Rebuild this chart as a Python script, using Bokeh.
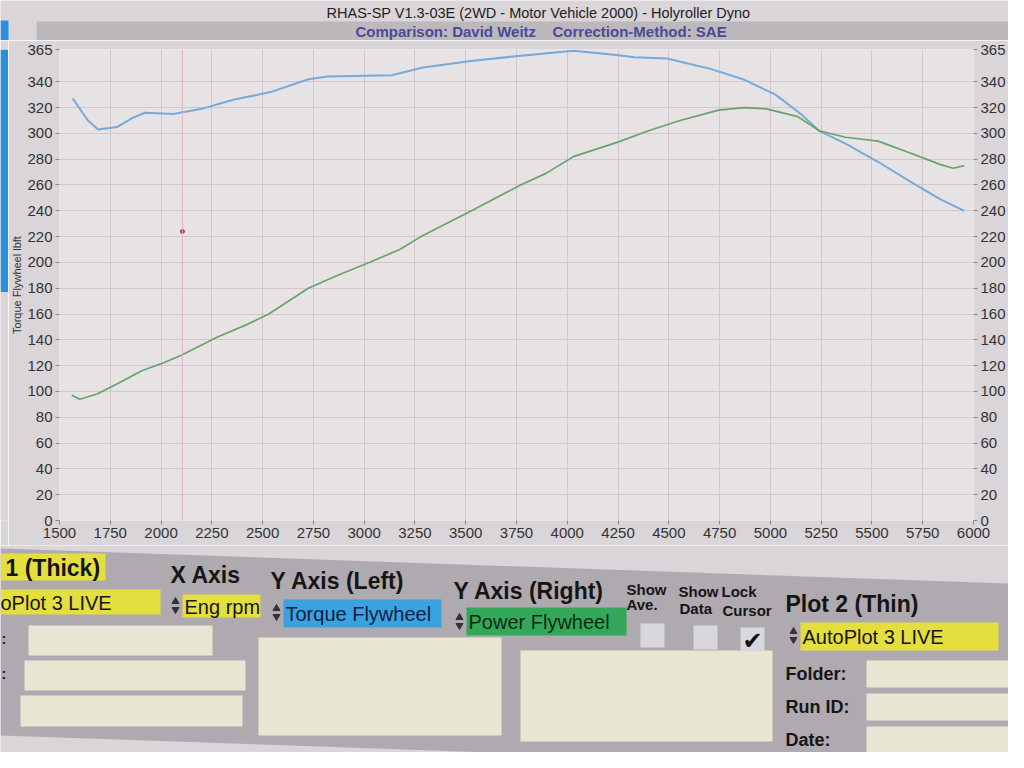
from bokeh.plotting import figure
from bokeh.models import Range1d, LinearAxis, FixedTicker, Span
from bokeh.layouts import column, row
from bokeh.embed import file_html
from bokeh.resources import INLINE
from bokeh.core.properties import value

# ---------------- data ----------------
rpm_ticks = [1500, 1750, 2000, 2250, 2500, 2750, 3000, 3250, 3500, 3750,
             4000, 4250, 4500, 4750, 5000, 5250, 5500, 5750, 6000]
y_ticks = [0, 20, 40, 60, 80, 100, 120, 140, 160, 180, 200, 220, 240, 260,
           280, 300, 320, 340, 365]

torque_rpm = [1565, 1640, 1690, 1785, 1860, 1920, 2060, 2200, 2355, 2540,
              2725, 2820, 3135, 3290, 3525, 3760, 4030, 4230, 4330, 4490,
              4705, 4865, 5025, 5150, 5240, 5370, 5530, 5685, 5835, 5955]
torque_lbft = [327, 310, 303, 305, 312, 316, 315, 319, 326, 332,
               342, 344, 345, 351, 356, 360, 364, 361, 359, 358,
               350, 342, 330, 315, 302, 292, 278, 263, 249, 240]

power_rpm = [1560, 1600, 1685, 1785, 1905, 2010, 2100, 2275, 2425, 2530,
             2725, 2870, 3025, 3175, 3280, 3540, 3770, 3895, 4030, 4245,
             4400, 4555, 4745, 4870, 4980, 5135, 5240, 5370, 5530, 5685,
             5835, 5900, 5955]
power_hp = [97, 94, 98, 106, 116, 122, 128, 142, 152, 160,
            180, 190, 200, 210, 220, 241, 260, 269, 282, 293,
            302, 310, 318, 320, 319, 313, 302, 297, 294, 285,
            276, 273, 275]

cursor_rpm = 2105
cursor_value = 224

title_1 = "RHAS-SP V1.3-03E  (2WD - Motor Vehicle 2000) - Holyroller Dyno"
title_2a = "Comparison: David Weitz"
title_2b = "Correction-Method: SAE"

# ---------------- style ----------------
FONT = "Liberation Sans"
PAGE = "#d9d5d9"
PLOT_BG = "#e7e2e4"
GRID = "#d3c6cc"
PANEL = "#aeaaaf"
PALE = "#e6e6d2"
YELLOW = "#e4de3e"
BLUE_BOX = "#3ba2e2"
GREEN_BOX = "#34a85a"
TORQUE_C = "#76aad8"
POWER_C = "#66a46c"
BAR_BLUE = "#2a8fdc"


def bare(fig):
    fig.grid.visible = False
    fig.outline_line_color = None
    return fig


# ---------------- header (page y 0..40) ----------------
header = bare(figure(width=1008, height=40, x_range=Range1d(0, 1008), y_range=Range1d(40, 0),
                     toolbar_location=None, output_backend="svg", min_border=0,
                     x_axis_location=None, y_axis_location=None,
                     background_fill_color=PAGE, border_fill_color=PAGE))
header.quad(left=[36], right=[1008], top=[21], bottom=[40], fill_color="#bcb8bc", line_color=None)
header.quad(left=[0], right=[8], top=[20], bottom=[40], fill_color=BAR_BLUE, line_color=None)
header.text(x=[540], y=[12], text=[title_1], text_font=value(FONT), text_font_size="14.5px",
            text_align="center", text_baseline="middle", text_color="#222222")
header.text(x=[355, 552], y=[31, 31], text=[title_2a, title_2b], text_font=value(FONT),
            text_font_size="15px", text_font_style="bold", text_align="left",
            text_baseline="middle", text_color="#4a4a98")

# ---------------- blue bar (page y 40..545) ----------------
bar = bare(figure(width=8, height=505, x_range=Range1d(0, 8), y_range=Range1d(545, 40),
                  toolbar_location=None, output_backend="svg", min_border=0,
                  x_axis_location=None, y_axis_location=None,
                  background_fill_color=PAGE, border_fill_color=PAGE))
bar.quad(left=[0], right=[8], top=[40], bottom=[300], fill_color=BAR_BLUE, line_color=None)

# ---------------- chart ----------------
p = figure(width=1000, height=505, x_range=Range1d(1500, 6000), y_range=Range1d(0, 365),
           toolbar_location=None, output_backend="svg",
           min_border_top=9, min_border_bottom=25, min_border_left=0, min_border_right=0,
           background_fill_color=PLOT_BG, border_fill_color=PAGE, outline_line_color=None)
p.extra_y_ranges = {"power": Range1d(0, 365)}
right_axis = LinearAxis(y_range_name="power", ticker=FixedTicker(ticks=y_ticks))
p.add_layout(right_axis, "right")

p.xaxis.ticker = FixedTicker(ticks=rpm_ticks)
p.yaxis.ticker = FixedTicker(ticks=y_ticks)
p.yaxis[0].axis_label = "Torque Flywheel lbft"
for ax in p.xaxis + p.yaxis:
    ax.major_label_text_font = FONT
    ax.major_label_text_font_size = "15px"
    ax.major_label_text_color = "#333333"
    ax.major_label_standoff = 3
    ax.axis_line_color = None
    ax.major_tick_line_color = "#8a8a8a"
    ax.major_tick_out = 4
    ax.major_tick_in = 0
    ax.minor_tick_line_color = None
    ax.axis_label_text_font = FONT
    ax.axis_label_text_font_size = "11px"
    ax.axis_label_text_font_style = "normal"
    ax.axis_label_text_color = "#333333"
    ax.axis_label_standoff = 1

p.xgrid.ticker = FixedTicker(ticks=rpm_ticks)
p.ygrid.ticker = FixedTicker(ticks=y_ticks)
p.grid.grid_line_color = GRID
p.grid.grid_line_width = 1

p.add_layout(Span(location=cursor_rpm, dimension="height", line_color="#e6b0c8", line_width=1))
p.scatter(x=[cursor_rpm], y=[cursor_value], size=4, color="#d8206a")

p.line(torque_rpm, torque_lbft, line_color=TORQUE_C, line_width=2)
p.line(power_rpm, power_hp, line_color=POWER_C, line_width=1.7, y_range_name="power")

# ---------------- control panel (page y 545..752) ----------------
q = bare(figure(width=1008, height=207, x_range=Range1d(0, 1008), y_range=Range1d(752, 545),
                toolbar_location=None, output_backend="svg", min_border=0,
                x_axis_location=None, y_axis_location=None,
                background_fill_color=PAGE, border_fill_color=PAGE))

q.patch(x=[0, 1008, 1008, 0], y=[548, 583, 770, 735], fill_color=PANEL, line_color=None)

# coloured fields
q.quad(left=[0, 0, 182, 800], right=[105, 160, 260, 998], top=[553, 589, 594, 622],
       bottom=[580, 614, 617, 650], fill_color=YELLOW, line_color=None)
q.quad(left=[283], right=[441], top=[599], bottom=[627], fill_color=BLUE_BOX, line_color=None)
q.quad(left=[466], right=[626], top=[607], bottom=[635], fill_color=GREEN_BOX, line_color=None)

# pale text boxes
q.quad(left=[28, 24, 20, 258, 520, 866, 866, 866],
       right=[212, 245, 242, 501, 772, 1008, 1008, 1008],
       top=[625, 660, 695, 637, 650, 660, 693, 726],
       bottom=[655, 690, 726, 735, 741, 687, 720, 752],
       fill_color=PALE, line_color=None)

# checkboxes
q.quad(left=[640, 693, 740], right=[664, 717, 764], top=[623, 625, 627], bottom=[647, 649, 651],
       fill_color="#d9d7dc", line_color=None)
q.text(x=[752], y=[640], text=["\u2714"], text_font=value("DejaVu Sans"), text_font_size="24px",
       text_align="center", text_baseline="middle", text_color="#111111")

# spinners
spin_x = [175, 276, 459, 793]
spin_y = [605, 612, 621, 635]
q.scatter(x=spin_x, y=[v - 4 for v in spin_y], marker="triangle", size=7, color="#333333")
q.scatter(x=spin_x, y=[v + 4 for v in spin_y], marker="inverted_triangle", size=7, color="#333333")


def txt(x, y, s, size="20px", bold=False, color="#151515"):
    q.text(x=[x], y=[y], text=[s], text_font=value(FONT), text_font_size=size,
           text_font_style="bold" if bold else "normal", text_align="left",
           text_baseline="middle", text_color=color)


txt(5, 567, "1 (Thick)", "23px", True)
txt(0, 602, "oPlot 3 LIVE", "20px")
txt(170, 574, "X Axis", "23px", True)
txt(184, 606, "Eng rpm", "20px")
txt(270, 580, "Y Axis (Left)", "23px", True)
txt(285, 613, "Torque Flywheel", "20px", color="#102040")
txt(453, 590, "Y Axis (Right)", "23px", True)
txt(468, 621, "Power Flywheel", "20px", color="#0d2a12")
txt(626, 589, "Show", "15px", True)
txt(626, 604, "Ave.", "15px", True)
txt(678, 591, "Show", "15px", True)
txt(721, 591, "Lock", "15px", True)
txt(679, 608, "Data", "15px", True)
txt(722, 610, "Cursor", "15px", True)
txt(785, 603, "Plot 2 (Thin)", "23px", True)
txt(802, 636, "AutoPlot 3 LIVE", "20px")
txt(785, 673, "Folder:", "18px", True)
txt(785, 706, "Run ID:", "18px", True)
txt(785, 739, "Date:", "18px", True)
txt(1, 638, ":", "14px", True)
txt(1, 673, ":", "14px", True)

layout = column(header, row(bar, p, spacing=0), q, spacing=0)
open("out.html", "w").write(file_html(layout, INLINE))
